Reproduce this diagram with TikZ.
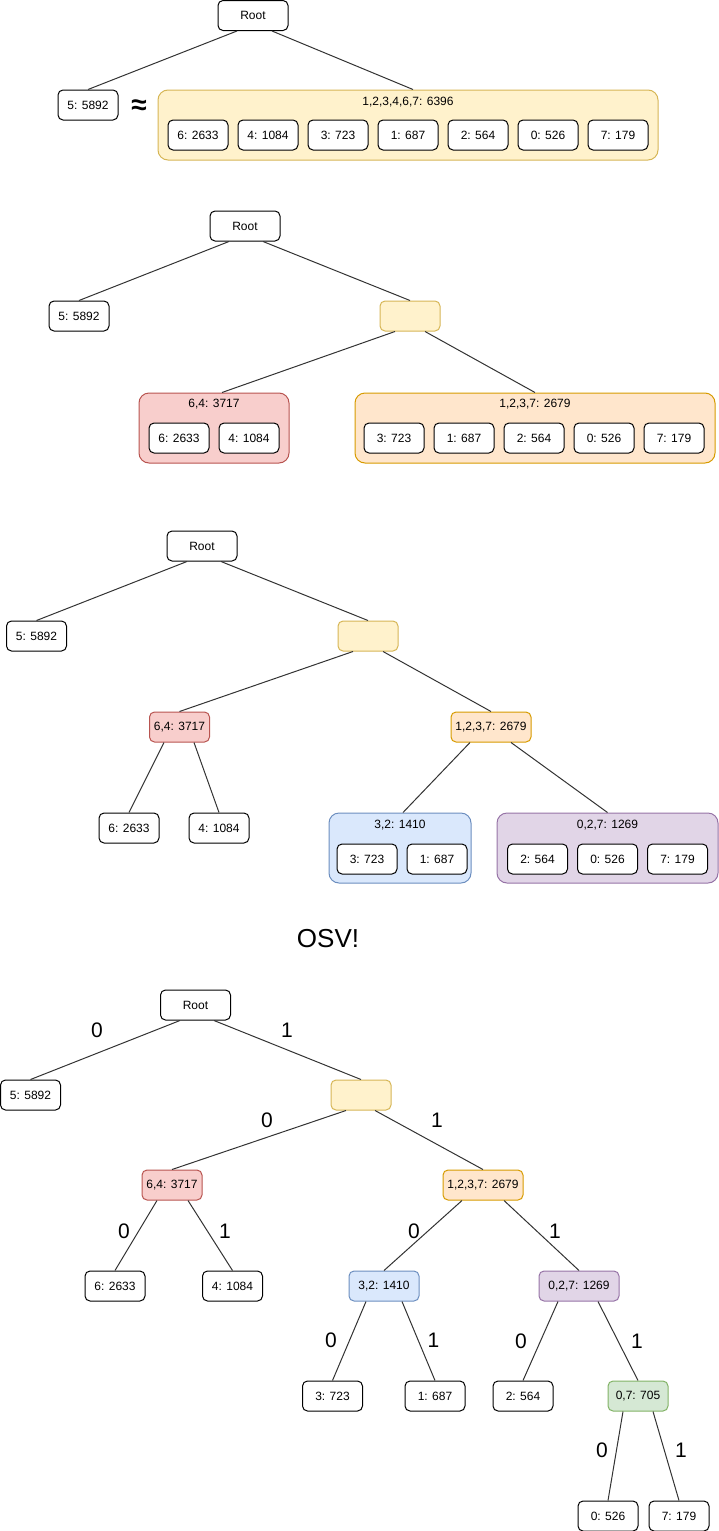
\documentclass[tikz,border=0pt]{standalone}
\usepackage{fontspec}
\setmainfont{Liberation Sans}
\usepackage{tikz}

\definecolor{yellowfill}{HTML}{FFF2CC}
\definecolor{yellowline}{HTML}{D6B656}
\definecolor{redfill}{HTML}{F8CECC}
\definecolor{redline}{HTML}{B85450}
\definecolor{orangefill}{HTML}{FFE6CC}
\definecolor{orangeline}{HTML}{D79B00}
\definecolor{bluefill}{HTML}{DAE8FC}
\definecolor{blueline}{HTML}{6C8EBF}
\definecolor{purplefill}{HTML}{E1D5E7}
\definecolor{purpleline}{HTML}{9673A6}
\definecolor{greenfill}{HTML}{D5E8D4}
\definecolor{greenline}{HTML}{82B366}

\tikzset{
    box/.style={draw, rounded corners=5pt, line width=1pt, fill=white, minimum width=60pt, minimum height=30pt, inner sep=0pt, font=\fontsize{12}{14}\selectfont},
    group/.style={draw, rounded corners=10pt, line width=1pt, minimum height=70pt, inner sep=0pt},
    grouptitle/.style={inner sep=0pt, font=\fontsize{12}{14}\selectfont},
    link/.style={line width=1pt, draw=black!80},
    bit/.style={inner sep=0pt, font=\fontsize{21}{24}\selectfont},
    yellowbox/.style={draw=yellowline, fill=yellowfill},
    redbox/.style={draw=redline, fill=redfill},
    orangebox/.style={draw=orangeline, fill=orangefill},
    bluebox/.style={draw=blueline, fill=bluefill},
    purplebox/.style={draw=purpleline, fill=purplefill},
    greenbox/.style={draw=greenline, fill=greenfill}
}

\begin{document}
\begin{tikzpicture}[x=1pt, y=-1pt]
    \useasboundingbox (0,0) rectangle (719,1531);

    \node[box, minimum width=70pt] (rootA) at (253,15.5) {Root};
    \node[box] (fiveA) at (88,105) {5: 5892};
    \node[inner sep=0pt, font=\fontsize{28}{30}\selectfont\bfseries] (approxA) at (139,107) {≈};
    \node[group, yellowbox, minimum width=500pt] (groupA) at (408,125) {};
    \node[grouptitle] (groupAtitle) at (408,102) {1,2,3,4,6,7: 6396};
    \node[box] (sixA) at (198,135) {6: 2633};
    \node[box] (fourA) at (268,135) {4: 1084};
    \node[box] (threeA) at (338,135) {3: 723};
    \node[box] (oneA) at (408,135) {1: 687};
    \node[box] (twoA) at (478,135) {2: 564};
    \node[box] (zeroA) at (548,135) {0: 526};
    \node[box] (sevenA) at (618,135) {7: 179};
    \draw[link] ([xshift=-16pt]rootA.south) -- (fiveA.north);
    \draw[link] ([xshift=19pt]rootA.south) -- ([xshift=5pt]groupA.north);

    \node[box, minimum width=70pt] (rootB) at (245,226) {Root};
    \node[box] (fiveB) at (79,316) {5: 5892};
    \node[box, yellowbox] (midB) at (410,316) {};
    \node[group, redbox, minimum width=150pt] (redB) at (214,428) {};
    \node[grouptitle] (redBtitle) at (214,404) {6,4: 3717};
    \node[box] (sixB) at (179,438) {6: 2633};
    \node[box] (fourB) at (249,438) {4: 1084};
    \node[group, orangebox, minimum width=360pt] (orangeB) at (535,428) {};
    \node[grouptitle] (orangeBtitle) at (535,404) {1,2,3,7: 2679};
    \node[box] (threeB) at (394,438) {3: 723};
    \node[box] (oneB) at (464,438) {1: 687};
    \node[box] (twoB) at (534,438) {2: 564};
    \node[box] (zeroB) at (604,438) {0: 526};
    \node[box] (sevenB) at (674,438) {7: 179};
    \draw[link] ([xshift=-16pt]rootB.south) -- (fiveB.north);
    \draw[link] ([xshift=18pt]rootB.south) -- (midB.north);
    \draw[link] ([xshift=-15pt]midB.south) -- ([xshift=8pt]redB.north);
    \draw[link] ([xshift=15pt]midB.south) -- (orangeB.north);

    \node[box, minimum width=70pt] (rootC) at (202,546) {Root};
    \node[box] (fiveC) at (36.5,636) {5: 5892};
    \node[box, yellowbox] (midC) at (368,636) {};
    \node[box, redbox] (redC) at (179.5,727) {6,4: 3717};
    \node[box, orangebox, minimum width=80pt] (orangeC) at (491,727) {1,2,3,7: 2679};
    \node[box] (sixC) at (129,828) {6: 2633};
    \node[box] (fourC) at (219,828) {4: 1084};
    \node[group, bluebox, minimum width=142pt] (blueC) at (400,848) {};
    \node[grouptitle] (blueCtitle) at (400,825) {3,2: 1410};
    \node[box] (threeC) at (367,859) {3: 723};
    \node[box] (oneC) at (437,859) {1: 687};
    \node[group, purplebox, minimum width=221pt] (purpleC) at (607.5,848) {};
    \node[grouptitle] (purpleCtitle) at (607.5,825) {0,2,7: 1269};
    \node[box] (twoC) at (537.5,859) {2: 564};
    \node[box] (zeroC) at (607.5,859) {0: 526};
    \node[box] (sevenC) at (677.5,859) {7: 179};
    \draw[link] ([xshift=-15pt]rootC.south) -- (fiveC.north);
    \draw[link] ([xshift=19pt]rootC.south) -- (midC.north);
    \draw[link] ([xshift=-15pt]midC.south) -- (redC.north);
    \draw[link] ([xshift=15pt]midC.south) -- (orangeC.north);
    \draw[link] ([xshift=-15.5pt]redC.south) -- (sixC.north);
    \draw[link] ([xshift=14.5pt]redC.south) -- (fourC.north);
    \draw[link] ([xshift=-21pt]orangeC.south) -- ([xshift=3pt]blueC.north);
    \draw[link] ([xshift=20pt]orangeC.south) -- (purpleC.north);

    \node[inner sep=0pt, font=\fontsize{26}{30}\selectfont] (osv) at (328,939) {OSV!};

    \node[box, minimum width=70pt] (rootD) at (195.5,1005) {Root};
    \node[box] (fiveD) at (30.5,1095) {5: 5892};
    \node[box, yellowbox] (midD) at (361,1095) {};
    \node[box, redbox] (redD) at (172,1185) {6,4: 3717};
    \node[box, orangebox, minimum width=80pt] (orangeD) at (483,1185) {1,2,3,7: 2679};
    \node[box] (sixD) at (115,1286) {6: 2633};
    \node[box] (fourD) at (232.5,1286) {4: 1084};
    \node[box, bluebox, minimum width=70pt] (blueD) at (384,1286) {3,2: 1410};
    \node[box, purplebox, minimum width=80pt] (purpleD) at (579,1286) {0,2,7: 1269};
    \node[box] (threeD) at (332.5,1396) {3: 723};
    \node[box] (oneD) at (435,1396) {1: 687};
    \node[box] (twoD) at (523,1396) {2: 564};
    \node[box, greenbox] (greenD) at (638,1396) {0,7: 705};
    \node[box] (zeroD) at (608,1516) {0: 526};
    \node[box] (sevenD) at (679,1516) {7: 179};
    \draw[link] ([xshift=-15.5pt]rootD.south) -- (fiveD.north);
    \draw[link] ([xshift=18.5pt]rootD.south) -- (midD.north);
    \draw[link] ([xshift=-15pt]midD.south) -- (redD.north);
    \draw[link] ([xshift=14pt]midD.south) -- (orangeD.north);
    \draw[link] ([xshift=-15pt]redD.south) -- (sixD.north);
    \draw[link] ([xshift=16pt]redD.south) -- (fourD.north);
    \draw[link] ([xshift=-21pt]orangeD.south) -- (blueD.north);
    \draw[link] ([xshift=21pt]orangeD.south) -- (purpleD.north);
    \draw[link] ([xshift=-18pt]blueD.south) -- (threeD.north);
    \draw[link] ([xshift=18pt]blueD.south) -- (oneD.north);
    \draw[link] ([xshift=-21pt]purpleD.south) -- (twoD.north);
    \draw[link] ([xshift=19pt]purpleD.south) -- (greenD.north);
    \draw[link] ([xshift=-15pt]greenD.south) -- (zeroD.north);
    \draw[link] ([xshift=15pt]greenD.south) -- (sevenD.north);
    \node[bit] (bitRootL) at (97,1030) {0};
    \node[bit] (bitRootR) at (287,1030) {1};
    \node[bit] (bitMidL) at (267,1120) {0};
    \node[bit] (bitMidR) at (437,1120) {1};
    \node[bit] (bitRedL) at (124,1231) {0};
    \node[bit] (bitRedR) at (225,1231) {1};
    \node[bit] (bitOrangeL) at (414,1231) {0};
    \node[bit] (bitOrangeR) at (555,1231) {1};
    \node[bit] (bitBlueL) at (331,1340) {0};
    \node[bit] (bitBlueR) at (433.5,1340) {1};
    \node[bit] (bitPurpleL) at (521,1341) {0};
    \node[bit] (bitPurpleR) at (637,1341) {1};
    \node[bit] (bitGreenL) at (602,1450) {0};
    \node[bit] (bitGreenR) at (681,1450) {1};
\end{tikzpicture}
\end{document}
